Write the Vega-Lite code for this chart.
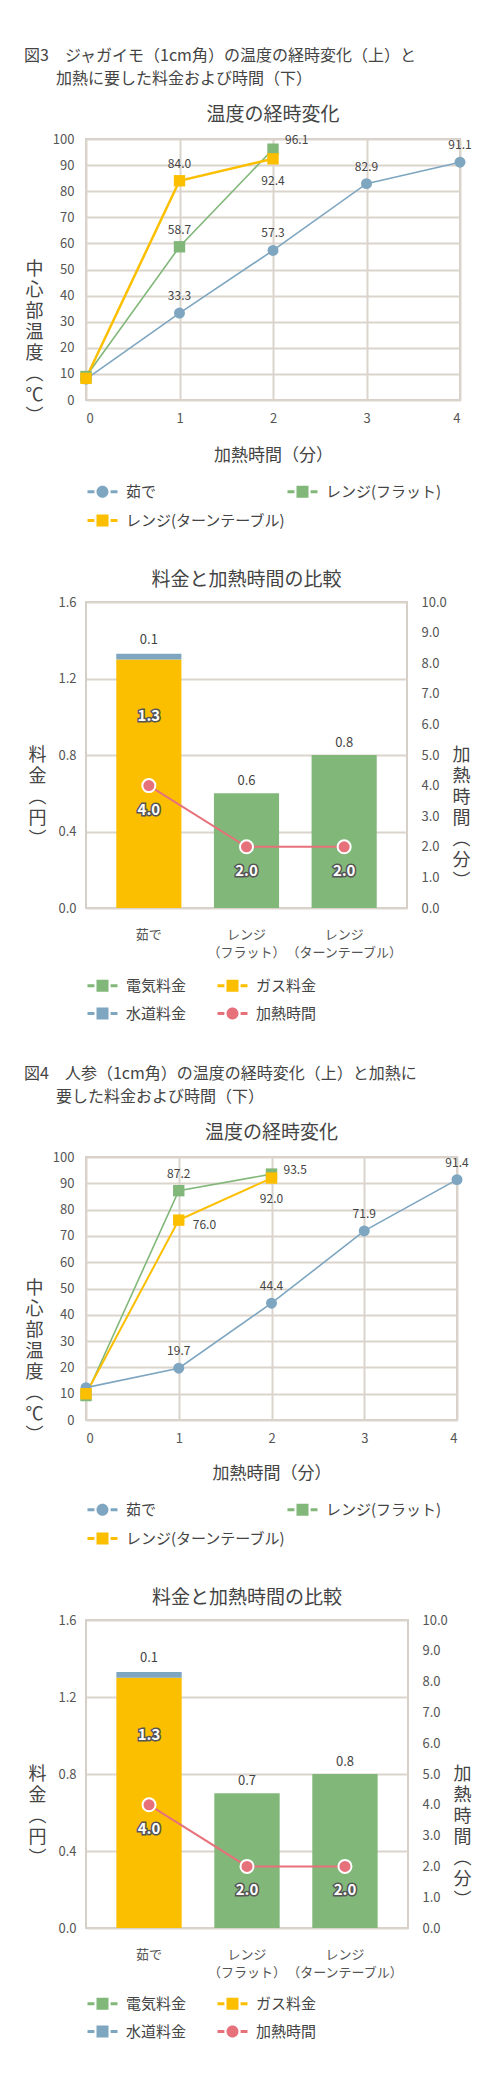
{
  "$schema": "https://vega.github.io/schema/vega-lite/v6.json",
  "background": "white",
  "padding": {"left": 24, "top": 47, "right": 0, "bottom": 5},
  "datasets": {
    "t3": [
      {"s": "茹で", "t": 0, "temp": 8.0},
      {"s": "茹で", "t": 1, "temp": 33.3},
      {"s": "茹で", "t": 2, "temp": 57.3},
      {"s": "茹で", "t": 3, "temp": 82.9},
      {"s": "茹で", "t": 4, "temp": 91.1},
      {"s": "レンジ(フラット)", "t": 0, "temp": 9.0},
      {"s": "レンジ(フラット)", "t": 1, "temp": 58.7},
      {"s": "レンジ(フラット)", "t": 2, "temp": 96.1},
      {"s": "レンジ(ターンテーブル)", "t": 0, "temp": 8.3},
      {"s": "レンジ(ターンテーブル)", "t": 1, "temp": 84.0},
      {"s": "レンジ(ターンテーブル)", "t": 2, "temp": 92.4}
    ],
    "t4": [
      {"s": "茹で", "t": 0, "temp": 12.3},
      {"s": "茹で", "t": 1, "temp": 19.7},
      {"s": "茹で", "t": 2, "temp": 44.4},
      {"s": "茹で", "t": 3, "temp": 71.9},
      {"s": "茹で", "t": 4, "temp": 91.4},
      {"s": "レンジ(フラット)", "t": 0, "temp": 9.3},
      {"s": "レンジ(フラット)", "t": 1, "temp": 87.2},
      {"s": "レンジ(フラット)", "t": 2, "temp": 93.5},
      {"s": "レンジ(ターンテーブル)", "t": 0, "temp": 10.0},
      {"s": "レンジ(ターンテーブル)", "t": 1, "temp": 76.0},
      {"s": "レンジ(ターンテーブル)", "t": 2, "temp": 92.0}
    ],
    "c3": [
      {"method": "茹で", "kind": "ガス料金", "yen": 1.3, "label": "1.3"},
      {"method": "茹で", "kind": "水道料金", "yen": 0.03, "label": "0.1"},
      {"method": "レンジ（フラット）", "kind": "電気料金", "yen": 0.6, "label": "0.6"},
      {"method": "レンジ（ターンテーブル）", "kind": "電気料金", "yen": 0.8, "label": "0.8"}
    ],
    "c4": [
      {"method": "茹で", "kind": "ガス料金", "yen": 1.3, "label": "1.3"},
      {"method": "茹で", "kind": "水道料金", "yen": 0.03, "label": "0.1"},
      {"method": "レンジ（フラット）", "kind": "電気料金", "yen": 0.7, "label": "0.7"},
      {"method": "レンジ（ターンテーブル）", "kind": "電気料金", "yen": 0.8, "label": "0.8"}
    ],
    "m3": [
      {"method": "茹で", "min": 4.0},
      {"method": "レンジ（フラット）", "min": 2.0},
      {"method": "レンジ（ターンテーブル）", "min": 2.0}
    ],
    "m4": [
      {"method": "茹で", "min": 4.0},
      {"method": "レンジ（フラット）", "min": 2.0},
      {"method": "レンジ（ターンテーブル）", "min": 2.0}
    ]
  },
  "config": {
    "font": "Noto Sans CJK JP",
    "view": {"stroke": "#d6cfc7", "strokeWidth": 2},
    "axis": {
      "labelFont": "Noto Sans CJK JP",
      "labelFontSize": 13,
      "labelColor": "#555555",
      "labelOverlap": false,
      "titleFont": "Noto Sans CJK JP",
      "titleFontWeight": "normal",
      "titleFontSize": 18,
      "titleColor": "#444444",
      "gridColor": "#dbd4cc",
      "gridWidth": 2,
      "domain": false,
      "ticks": false
    },
    "legend": {
      "labelFont": "Noto Sans CJK JP",
      "labelFontSize": 15,
      "labelColor": "#444444",
      "labelLimit": 200,
      "symbolSize": 144
    },
    "title": {"font": "Noto Sans CJK JP", "fontWeight": "normal", "color": "#444444", "subtitleFont": "Noto Sans CJK JP", "subtitleColor": "#444444"},
    "text": {"font": "Noto Sans CJK JP"}
  },
  "spacing": 42,
  "resolve": {
    "scale": {"color": "independent", "x": "independent", "y": "independent"},
    "legend": {"color": "independent"}
  },
  "vconcat": [
    {
      "title": {
        "text": "図3　ジャガイモ（1cm角）の温度の経時変化（上）と",
        "subtitle": "\u200b　　加熱に要した料金および時間（下）",
        "anchor": "start",
        "fontSize": 16,
        "subtitleFontSize": 16,
        "subtitlePadding": 7.5,
        "offset": 18
      },
      "spacing": 40,
      "resolve": {
        "scale": {"color": "independent", "x": "independent", "y": "independent"},
        "legend": {"color": "independent"}
      },
      "vconcat": [
        {
          "width": 374,
          "height": 261,
          "title": {"text": "温度の経時変化", "fontSize": 19, "frame": "group", "offset": 8},
          "data": {"name": "t3"},
          "encoding": {
            "x": {
              "field": "t", "type": "quantitative",
              "scale": {"domain": [0, 4], "nice": false},
              "axis": {"values": [0, 1, 2, 3, 4], "grid": true, "labelPadding": 12, "title": "加熱時間（分）", "titleFontSize": 17, "titlePadding": 22}
            },
            "y": {
              "field": "temp", "type": "quantitative",
              "scale": {"domain": [0, 100], "nice": false},
              "axis": {
                "values": [0, 10, 20, 30, 40, 50, 60, 70, 80, 90, 100],
                "labelPadding": 12,
                "title": ["中", "心", "部", "温", "度", "︵", "℃", "︶"],
                "titleAngle": 0, "titleX": -52, "titleY": 130, "titleAlign": "center", "titleBaseline": "middle", "titleLineHeight": 21
              }
            },
            "color": {
              "field": "s", "type": "nominal",
              "scale": {"domain": ["茹で", "レンジ(フラット)", "レンジ(ターンテーブル)"], "range": ["#7ea6c0", "#82b77a", "#fcbf00"]},
              "legend": {
                "title": null, "orient": "none", "legendX": 9, "legendY": 345, "direction": "horizontal",
                "columns": 2, "columnPadding": 0, "rowPadding": 13, "labelOffset": 16,
                "encode": {"symbols": {"update": {
                  "shape": {"signal": "datum.value === '茹で' ? 'M-2.5,-0.25H-1.35V0.25H-2.5Z M1,0A1,1 0 1,1 -1,0A1,1 0 1,1 1,0Z M1.35,-0.25H2.5V0.25H1.35Z' : 'M-2.5,-0.25H-1.35V0.25H-2.5Z M-1,-1H1V1H-1Z M1.35,-0.25H2.5V0.25H1.35Z'"},
                  "fill": {"signal": "datum.value === '茹で' ? '#7ea6c0' : datum.value === 'レンジ(フラット)' ? '#82b77a' : '#fcbf00'"},
                  "stroke": {"value": "transparent"},
                  "strokeWidth": {"value": 0},
                  "size": {"value": 144},
                  "opacity": {"value": 1}
                }}}
              }
            }
          },
          "layer": [
            {
              "mark": {"type": "line"},
              "encoding": {
                "strokeWidth": {"condition": {"test": "datum.s === 'レンジ(ターンテーブル)'", "value": 2.5}, "value": 1.6}
              }
            },
            {
              "transform": [{"filter": "datum.s === '茹で'"}],
              "mark": {"type": "point", "shape": "circle", "filled": true, "opacity": 1, "size": 120}
            },
            {
              "transform": [{"filter": "datum.s !== '茹で'"}],
              "mark": {"type": "point", "shape": "square", "filled": true, "opacity": 1, "size": 130}
            },
            {
              "transform": [{"filter": "datum.t > 0 && (datum.s === '茹で' || datum.t === 1)"}],
              "mark": {"type": "text", "dy": -17, "fontSize": 12},
              "encoding": {"color": {"value": "#444444"}, "text": {"field": "temp", "type": "quantitative", "format": ".1f"}}
            },
            {
              "transform": [{"filter": "datum.s === 'レンジ(フラット)' && datum.t === 2"}],
              "mark": {"type": "text", "align": "left", "dx": 12, "dy": -9, "fontSize": 12},
              "encoding": {"color": {"value": "#444444"}, "text": {"field": "temp", "type": "quantitative", "format": ".1f"}}
            },
            {
              "transform": [{"filter": "datum.s === 'レンジ(ターンテーブル)' && datum.t === 2"}],
              "mark": {"type": "text", "dy": 22, "fontSize": 12},
              "encoding": {"color": {"value": "#444444"}, "text": {"field": "temp", "type": "quantitative", "format": ".1f"}}
            }
          ]
        },
        {
          "width": 321,
          "height": 306,
          "title": {"text": "料金と加熱時間の比較", "fontSize": 19, "frame": "group", "offset": 6},
          "encoding": {
            "x": {
              "field": "method", "type": "nominal", "sort": null,
              "scale": {"paddingInner": 0.333, "paddingOuter": 0.31},
              "axis": {
                "title": null, "labelAngle": 0, "labelPadding": 20, "labelLineHeight": 18,
                "labelExpr": "indexof(datum.value, '（') > 0 ? [slice(datum.value, 0, indexof(datum.value, '（')), slice(datum.value, indexof(datum.value, '（'))] : datum.value"
              }
            }
          },
          "layer": [
            {
              "data": {"name": "c3"},
              "layer": [
                {
                  "mark": {"type": "bar"},
                  "encoding": {
                    "y": {
                      "field": "yen", "type": "quantitative",
                      "scale": {"domain": [0, 1.6], "nice": false},
                      "axis": {
                        "values": [0, 0.2, 0.4, 0.6, 0.8, 1.0, 1.2, 1.4, 1.6], "format": ".1f", "labelPadding": 10, "labelOverlap": false,
                        "title": ["料", "金", "︵", "円", "︶"],
                        "titleAngle": 0, "titleX": -49, "titleY": 153, "titleAlign": "center", "titleBaseline": "middle", "titleLineHeight": 21
                      }
                    },
                    "color": {
                      "field": "kind", "type": "nominal",
                      "scale": {"domain": ["電気料金", "ガス料金", "水道料金", "加熱時間"], "range": ["#82b77a", "#fcbf00", "#7ea6c0", "#e7717b"]},
                      "legend": {
                        "title": null, "orient": "none", "legendX": 9, "legendY": 376, "direction": "horizontal",
                        "columns": 2, "columnPadding": 30, "rowPadding": 12, "labelOffset": 16,
                        "encode": {"symbols": {"update": {
                          "shape": {"signal": "datum.value === '加熱時間' ? 'M-2.5,-0.25H-1.35V0.25H-2.5Z M1,0A1,1 0 1,1 -1,0A1,1 0 1,1 1,0Z M1.35,-0.25H2.5V0.25H1.35Z' : 'M-2.5,-0.25H-1.35V0.25H-2.5Z M-1,-1H1V1H-1Z M1.35,-0.25H2.5V0.25H1.35Z'"},
                          "fill": {"signal": "datum.value === '電気料金' ? '#82b77a' : datum.value === 'ガス料金' ? '#fcbf00' : datum.value === '水道料金' ? '#7ea6c0' : '#e7717b'"},
                          "stroke": {"value": "transparent"},
                          "strokeWidth": {"value": 0},
                          "size": {"value": 144},
                          "opacity": {"value": 1}
                        }}}
                      }
                    },
                    "order": {"field": "kind", "sort": "ascending"}
                  }
                },
                {
                  "transform": [{"filter": "datum.kind === '電気料金'"}],
                  "mark": {"type": "text", "dy": -12, "fontSize": 13, "color": "#444444"},
                  "encoding": {"y": {"field": "yen", "type": "quantitative"}, "text": {"field": "label"}}
                },
                {
                  "transform": [{"filter": "datum.kind === 'ガス料金'"}],
                  "mark": {"type": "text", "dy": 57, "fontSize": 15, "fontWeight": "bold", "color": "#555555", "stroke": "#555555", "strokeWidth": 3},
                  "encoding": {"y": {"field": "yen", "type": "quantitative"}, "text": {"field": "label"}}
                },
                {
                  "transform": [{"filter": "datum.kind === 'ガス料金'"}],
                  "mark": {"type": "text", "dy": 57, "fontSize": 15, "fontWeight": "bold", "color": "white"},
                  "encoding": {"y": {"field": "yen", "type": "quantitative"}, "text": {"field": "label"}}
                },
                {
                  "transform": [
                    {"joinaggregate": [{"op": "sum", "field": "yen", "as": "top"}], "groupby": ["method"]},
                    {"filter": "datum.kind === '水道料金'"}
                  ],
                  "mark": {"type": "text", "dy": -14, "fontSize": 13, "color": "white", "stroke": "white", "strokeWidth": 6},
                  "encoding": {"y": {"field": "top", "type": "quantitative"}, "text": {"field": "label"}}
                },
                {
                  "transform": [
                    {"joinaggregate": [{"op": "sum", "field": "yen", "as": "top"}], "groupby": ["method"]},
                    {"filter": "datum.kind === '水道料金'"}
                  ],
                  "mark": {"type": "text", "dy": -14, "fontSize": 13, "color": "#444444"},
                  "encoding": {"y": {"field": "top", "type": "quantitative"}, "text": {"field": "label"}}
                }
              ]
            },
            {
              "data": {"name": "m3"},
              "encoding": {
                "y": {
                  "field": "min", "type": "quantitative",
                  "scale": {"domain": [0, 10], "nice": false},
                  "axis": {
                    "orient": "right", "grid": false,
                    "values": [0, 1, 2, 3, 4, 5, 6, 7, 8, 9, 10], "format": ".1f", "labelPadding": 14,
                    "title": ["加", "熱", "時", "間", "︵", "分", "︶"],
                    "titleAngle": 0, "titleX": 54, "titleY": 153, "titleAlign": "center", "titleBaseline": "middle", "titleLineHeight": 21
                  }
                }
              },
              "layer": [
                {"mark": {"type": "line", "strokeWidth": 2}, "encoding": {"color": {"datum": "加熱時間"}}},
                {"mark": {"type": "point", "filled": true, "opacity": 1, "size": 170, "stroke": "white", "strokeWidth": 2}, "encoding": {"color": {"datum": "加熱時間"}}},
                {
                  "mark": {"type": "text", "dy": 24, "fontSize": 15, "fontWeight": "bold", "color": "#555555", "stroke": "#555555", "strokeWidth": 3},
                  "encoding": {"text": {"field": "min", "type": "quantitative", "format": ".1f"}}
                },
                {
                  "mark": {"type": "text", "dy": 24, "fontSize": 15, "fontWeight": "bold", "color": "white"},
                  "encoding": {"text": {"field": "min", "type": "quantitative", "format": ".1f"}}
                }
              ]
            }
          ],
          "resolve": {"scale": {"y": "independent"}}
        }
      ]
    },
    {
      "title": {
        "text": "図4　人参（1cm角）の温度の経時変化（上）と加熱に",
        "subtitle": "\u200b　　要した料金および時間（下）",
        "anchor": "start",
        "fontSize": 16,
        "subtitleFontSize": 16,
        "subtitlePadding": 7.5,
        "offset": 18
      },
      "spacing": 40,
      "resolve": {
        "scale": {"color": "independent", "x": "independent", "y": "independent"},
        "legend": {"color": "independent"}
      },
      "vconcat": [
        {
          "width": 371,
          "height": 263,
          "title": {"text": "温度の経時変化", "fontSize": 19, "frame": "group", "offset": 8},
          "data": {"name": "t4"},
          "encoding": {
            "x": {
              "field": "t", "type": "quantitative",
              "scale": {"domain": [0, 4], "nice": false},
              "axis": {"values": [0, 1, 2, 3, 4], "grid": true, "labelPadding": 12, "title": "加熱時間（分）", "titleFontSize": 17, "titlePadding": 20}
            },
            "y": {
              "field": "temp", "type": "quantitative",
              "scale": {"domain": [0, 100], "nice": false},
              "axis": {
                "values": [0, 10, 20, 30, 40, 50, 60, 70, 80, 90, 100],
                "labelPadding": 12,
                "title": ["中", "心", "部", "温", "度", "︵", "℃", "︶"],
                "titleAngle": 0, "titleX": -52, "titleY": 131, "titleAlign": "center", "titleBaseline": "middle", "titleLineHeight": 21
              }
            },
            "color": {
              "field": "s", "type": "nominal",
              "scale": {"domain": ["茹で", "レンジ(フラット)", "レンジ(ターンテーブル)"], "range": ["#7ea6c0", "#82b77a", "#fcbf00"]},
              "legend": {
                "title": null, "orient": "none", "legendX": 9, "legendY": 345, "direction": "horizontal",
                "columns": 2, "columnPadding": 0, "rowPadding": 13, "labelOffset": 16,
                "encode": {"symbols": {"update": {
                  "shape": {"signal": "datum.value === '茹で' ? 'M-2.5,-0.25H-1.35V0.25H-2.5Z M1,0A1,1 0 1,1 -1,0A1,1 0 1,1 1,0Z M1.35,-0.25H2.5V0.25H1.35Z' : 'M-2.5,-0.25H-1.35V0.25H-2.5Z M-1,-1H1V1H-1Z M1.35,-0.25H2.5V0.25H1.35Z'"},
                  "fill": {"signal": "datum.value === '茹で' ? '#7ea6c0' : datum.value === 'レンジ(フラット)' ? '#82b77a' : '#fcbf00'"},
                  "stroke": {"value": "transparent"},
                  "strokeWidth": {"value": 0},
                  "size": {"value": 144},
                  "opacity": {"value": 1}
                }}}
              }
            }
          },
          "layer": [
            {
              "mark": {"type": "line"},
              "encoding": {
                "strokeWidth": {"condition": {"test": "datum.s === 'レンジ(ターンテーブル)'", "value": 2}, "value": 1.6}
              }
            },
            {
              "transform": [{"filter": "datum.s === '茹で'"}],
              "mark": {"type": "point", "shape": "circle", "filled": true, "opacity": 1, "size": 120}
            },
            {
              "transform": [{"filter": "datum.s !== '茹で'"}],
              "mark": {"type": "point", "shape": "square", "filled": true, "opacity": 1, "size": 130}
            },
            {
              "transform": [{"filter": "datum.t > 0 && (datum.s === '茹で' || (datum.s === 'レンジ(フラット)' && datum.t === 1))"}],
              "mark": {"type": "text", "dy": -17, "fontSize": 12},
              "encoding": {"color": {"value": "#444444"}, "text": {"field": "temp", "type": "quantitative", "format": ".1f"}}
            },
            {
              "transform": [{"filter": "datum.s === 'レンジ(フラット)' && datum.t === 2"}],
              "mark": {"type": "text", "align": "left", "dx": 12, "dy": -4, "fontSize": 12},
              "encoding": {"color": {"value": "#444444"}, "text": {"field": "temp", "type": "quantitative", "format": ".1f"}}
            },
            {
              "transform": [{"filter": "datum.s === 'レンジ(ターンテーブル)' && datum.t === 1"}],
              "mark": {"type": "text", "align": "left", "dx": 14, "dy": 5, "fontSize": 12},
              "encoding": {"color": {"value": "#444444"}, "text": {"field": "temp", "type": "quantitative", "format": ".1f"}}
            },
            {
              "transform": [{"filter": "datum.s === 'レンジ(ターンテーブル)' && datum.t === 2"}],
              "mark": {"type": "text", "dy": 21, "fontSize": 12},
              "encoding": {"color": {"value": "#444444"}, "text": {"field": "temp", "type": "quantitative", "format": ".1f"}}
            }
          ]
        },
        {
          "width": 322,
          "height": 308,
          "title": {"text": "料金と加熱時間の比較", "fontSize": 19, "frame": "group", "offset": 6},
          "encoding": {
            "x": {
              "field": "method", "type": "nominal", "sort": null,
              "scale": {"paddingInner": 0.333, "paddingOuter": 0.31},
              "axis": {
                "title": null, "labelAngle": 0, "labelPadding": 20, "labelLineHeight": 18,
                "labelExpr": "indexof(datum.value, '（') > 0 ? [slice(datum.value, 0, indexof(datum.value, '（')), slice(datum.value, indexof(datum.value, '（'))] : datum.value"
              }
            }
          },
          "layer": [
            {
              "data": {"name": "c4"},
              "layer": [
                {
                  "mark": {"type": "bar"},
                  "encoding": {
                    "y": {
                      "field": "yen", "type": "quantitative",
                      "scale": {"domain": [0, 1.6], "nice": false},
                      "axis": {
                        "values": [0, 0.2, 0.4, 0.6, 0.8, 1.0, 1.2, 1.4, 1.6], "format": ".1f", "labelPadding": 10, "labelOverlap": false,
                        "title": ["料", "金", "︵", "円", "︶"],
                        "titleAngle": 0, "titleX": -49, "titleY": 154, "titleAlign": "center", "titleBaseline": "middle", "titleLineHeight": 21
                      }
                    },
                    "color": {
                      "field": "kind", "type": "nominal",
                      "scale": {"domain": ["電気料金", "ガス料金", "水道料金", "加熱時間"], "range": ["#82b77a", "#fcbf00", "#7ea6c0", "#e7717b"]},
                      "legend": {
                        "title": null, "orient": "none", "legendX": 9, "legendY": 376, "direction": "horizontal",
                        "columns": 2, "columnPadding": 30, "rowPadding": 12, "labelOffset": 16,
                        "encode": {"symbols": {"update": {
                          "shape": {"signal": "datum.value === '加熱時間' ? 'M-2.5,-0.25H-1.35V0.25H-2.5Z M1,0A1,1 0 1,1 -1,0A1,1 0 1,1 1,0Z M1.35,-0.25H2.5V0.25H1.35Z' : 'M-2.5,-0.25H-1.35V0.25H-2.5Z M-1,-1H1V1H-1Z M1.35,-0.25H2.5V0.25H1.35Z'"},
                          "fill": {"signal": "datum.value === '電気料金' ? '#82b77a' : datum.value === 'ガス料金' ? '#fcbf00' : datum.value === '水道料金' ? '#7ea6c0' : '#e7717b'"},
                          "stroke": {"value": "transparent"},
                          "strokeWidth": {"value": 0},
                          "size": {"value": 144},
                          "opacity": {"value": 1}
                        }}}
                      }
                    },
                    "order": {"field": "kind", "sort": "ascending"}
                  }
                },
                {
                  "transform": [{"filter": "datum.kind === '電気料金'"}],
                  "mark": {"type": "text", "dy": -12, "fontSize": 13, "color": "#444444"},
                  "encoding": {"y": {"field": "yen", "type": "quantitative"}, "text": {"field": "label"}}
                },
                {
                  "transform": [{"filter": "datum.kind === 'ガス料金'"}],
                  "mark": {"type": "text", "dy": 57, "fontSize": 15, "fontWeight": "bold", "color": "#555555", "stroke": "#555555", "strokeWidth": 3},
                  "encoding": {"y": {"field": "yen", "type": "quantitative"}, "text": {"field": "label"}}
                },
                {
                  "transform": [{"filter": "datum.kind === 'ガス料金'"}],
                  "mark": {"type": "text", "dy": 57, "fontSize": 15, "fontWeight": "bold", "color": "white"},
                  "encoding": {"y": {"field": "yen", "type": "quantitative"}, "text": {"field": "label"}}
                },
                {
                  "transform": [
                    {"joinaggregate": [{"op": "sum", "field": "yen", "as": "top"}], "groupby": ["method"]},
                    {"filter": "datum.kind === '水道料金'"}
                  ],
                  "mark": {"type": "text", "dy": -14, "fontSize": 13, "color": "white", "stroke": "white", "strokeWidth": 6},
                  "encoding": {"y": {"field": "top", "type": "quantitative"}, "text": {"field": "label"}}
                },
                {
                  "transform": [
                    {"joinaggregate": [{"op": "sum", "field": "yen", "as": "top"}], "groupby": ["method"]},
                    {"filter": "datum.kind === '水道料金'"}
                  ],
                  "mark": {"type": "text", "dy": -14, "fontSize": 13, "color": "#444444"},
                  "encoding": {"y": {"field": "top", "type": "quantitative"}, "text": {"field": "label"}}
                }
              ]
            },
            {
              "data": {"name": "m4"},
              "encoding": {
                "y": {
                  "field": "min", "type": "quantitative",
                  "scale": {"domain": [0, 10], "nice": false},
                  "axis": {
                    "orient": "right", "grid": false,
                    "values": [0, 1, 2, 3, 4, 5, 6, 7, 8, 9, 10], "format": ".1f", "labelPadding": 14,
                    "title": ["加", "熱", "時", "間", "︵", "分", "︶"],
                    "titleAngle": 0, "titleX": 54, "titleY": 154, "titleAlign": "center", "titleBaseline": "middle", "titleLineHeight": 21
                  }
                }
              },
              "layer": [
                {"mark": {"type": "line", "strokeWidth": 2}, "encoding": {"color": {"datum": "加熱時間"}}},
                {"mark": {"type": "point", "filled": true, "opacity": 1, "size": 170, "stroke": "white", "strokeWidth": 2}, "encoding": {"color": {"datum": "加熱時間"}}},
                {
                  "mark": {"type": "text", "dy": 24, "fontSize": 15, "fontWeight": "bold", "color": "#555555", "stroke": "#555555", "strokeWidth": 3},
                  "encoding": {"text": {"field": "min", "type": "quantitative", "format": ".1f"}}
                },
                {
                  "mark": {"type": "text", "dy": 24, "fontSize": 15, "fontWeight": "bold", "color": "white"},
                  "encoding": {"text": {"field": "min", "type": "quantitative", "format": ".1f"}}
                }
              ]
            }
          ],
          "resolve": {"scale": {"y": "independent"}}
        }
      ]
    }
  ]
}
